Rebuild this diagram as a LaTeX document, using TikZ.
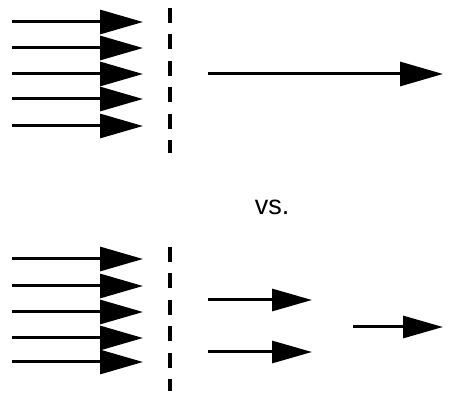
\documentclass[tikz,border=0pt]{standalone}
\usepackage{fontspec}
\setmainfont{Liberation Sans}
\usetikzlibrary{arrows.meta}
\tikzset{
  flow/.style={line width=3pt, -{Triangle[length=43pt, width=24pt]}},
  smallflow/.style={line width=3pt, -{Triangle[length=40pt, width=22pt]}},
  barrier/.style={line width=3.8pt, dash pattern=on 15pt off 11.5pt},
}
\begin{document}
\begin{tikzpicture}[x=1pt, y=-1pt]
\useasboundingbox (0,0) rectangle (456,395);
% top group
\foreach \i/\y in {1/22, 2/48, 3/74, 4/99, 5/126} {
  \coordinate (ta\i) at (12,\y);
  \coordinate (tb\i) at (143,\y);
  \draw[flow] (ta\i) -- (tb\i);
}
\coordinate (td1) at (170,8);
\coordinate (td2) at (170,153);
\draw[barrier] (td1) -- (td2);
\coordinate (tr1) at (208,74);
\coordinate (tr2) at (443,74);
\draw[flow] (tr1) -- (tr2);
% vs
\node[font=\fontsize{27}{30}\selectfont, inner sep=0pt] (vs) at (272,207) {vs.};
% bottom group
\foreach \i/\y in {1/259, 2/286, 3/312, 4/338, 5/362} {
  \coordinate (ba\i) at (12,\y);
  \coordinate (bb\i) at (143,\y);
  \draw[flow] (ba\i) -- (bb\i);
}
\coordinate (bd1) at (170,247);
\coordinate (bd2) at (170,391);
\draw[barrier] (bd1) -- (bd2);
\coordinate (br1a) at (208,300);
\coordinate (br1b) at (312,300);
\draw[smallflow] (br1a) -- (br1b);
\coordinate (br2a) at (208,352);
\coordinate (br2b) at (312,352);
\draw[smallflow] (br2a) -- (br2b);
\coordinate (br3a) at (353,327);
\coordinate (br3b) at (443,327);
\draw[smallflow] (br3a) -- (br3b);
\end{tikzpicture}
\end{document}
